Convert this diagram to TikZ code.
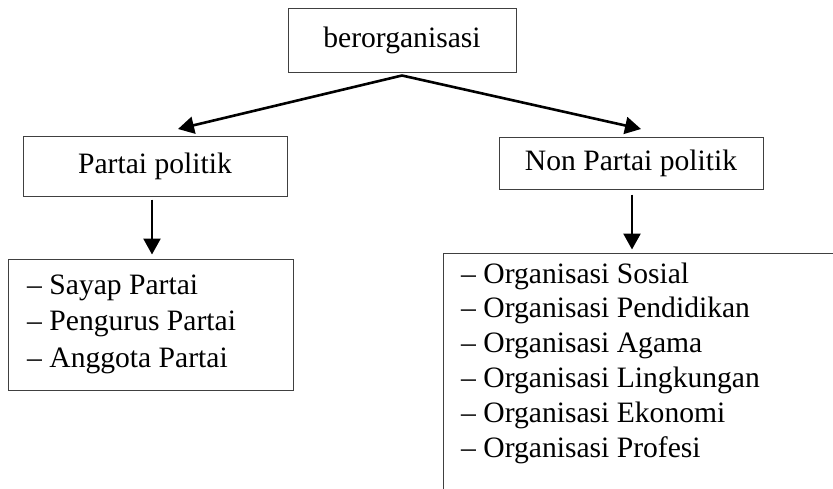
\documentclass[tikz,border=0pt]{standalone}
\usepackage{fontspec}
\setmainfont{Liberation Serif}
\usetikzlibrary{arrows.meta}
\tikzset{box/.style={draw=black!75, line width=1pt, inner sep=0pt,
    font=\fontsize{29.6}{34}\selectfont}}
\tikzset{item/.style={anchor=base west, inner sep=0pt,
    font=\fontsize{29.6}{34}\selectfont}}
\tikzset{arr/.style={line width=2.6pt, -{Triangle[length=16pt,width=17pt]}}}

\begin{document}
\begin{tikzpicture}[x=1pt,y=-1pt]
                \useasboundingbox (0,0) rectangle (833,488);
                \clip (0,0) rectangle (833,488);
                
                % Boxes
                \node[box, minimum width=228pt, minimum height=64pt] (top) at (402,40) {berorganisasi};
                \node[box, minimum width=264pt, minimum height=60pt] (pp) at (155,166) {Partai politik};
                \node[box, minimum width=264pt, minimum height=52pt] (npp) at (631,163) {Non Partai politik};
                \node[box, minimum width=285pt, minimum height=131pt] (pplist) at (150.5,324.5) {};
                \node[box, minimum width=402pt, minimum height=247pt] (npplist) at (644,376.5) {};
                
                % Arrows
                \coordinate (tipl) at (178,129);
                \coordinate (tipr) at (641,129);
                \draw[arr] ([yshift=-3pt]top.south) -- (tipl);
                \draw[arr] ([yshift=-3pt]top.south) -- (tipr);
                \draw[arr, shorten <=3pt, shorten >=4pt] ([xshift=-3pt]pp.south) -- ([xshift=-3pt]pp.south |- pplist.north);
                \draw[arr, shorten <=5pt, shorten >=3pt] ([xshift=1pt]npp.south) -- ([xshift=1pt]npp.south |- npplist.north);
                
                % Items
                \node[item] (sayap) at (27,294) {-- Sayap Partai};
                \node[item] (pengurus) at (27,330) {-- Pengurus Partai};
                \node[item] (anggota) at (27,367) {-- Anggota Partai};
                \foreach \txt [count=\i] in {Sosial, Pendidikan, Agama, Lingkungan, Ekonomi, Profesi}
                    \node[item] (org\i) at (461,{283+34.8*(\i-1)}) {-- Organisasi \txt};
            \end{tikzpicture}
\end{document}
